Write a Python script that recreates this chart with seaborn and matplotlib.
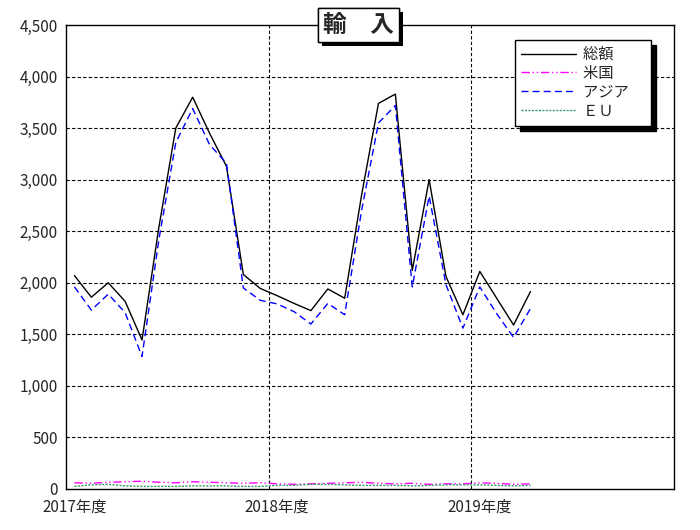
import numpy as np
import pandas as pd
import matplotlib
matplotlib.use("Agg")
import matplotlib.pyplot as plt
import matplotlib.patheffects as pe
import seaborn as sns

# monthly values, April 2017 onwards (28 months), axis holds 36 slots
total = [2070, 1860, 2000, 1820, 1445, 2540, 3500, 3800, 3450, 3130, 2080, 1945,
         1875, 1800, 1730, 1940, 1850, 2850, 3740, 3830, 2120, 3000, 2060, 1690,
         2110, 1850, 1590, 1915]
asia = [1960, 1735, 1890, 1710, 1285, 2420, 3360, 3690, 3340, 3160, 1950, 1830,
        1795, 1720, 1600, 1800, 1690, 2700, 3550, 3720, 1960, 2840, 1980, 1560,
        1960, 1700, 1470, 1750]
usa = [60, 55, 65, 70, 75, 65, 60, 70, 65, 60, 55, 60,
       50, 45, 50, 55, 60, 65, 55, 50, 55, 45, 50, 50,
       60, 55, 45, 50]
eu = [25, 40, 45, 30, 25, 25, 25, 30, 30, 30, 25, 25,
      35, 35, 45, 45, 40, 35, 35, 35, 30, 35, 40, 40,
      40, 35, 30, 35]
year_labels = ["2017年度", "2018年度", "2019年度"]
n_slots = 36

df = pd.DataFrame({
    "month": np.arange(len(total)),
    "総額": total,
    "米国": usa,
    "アジア": asia,
    "ＥＵ": eu,
})

sns.set_style("white")
plt.rcParams['font.family'] = ['Noto Sans CJK JP', 'DejaVu Sans']

fig = plt.figure(figsize=(7, 5.3), dpi=100)
ax = fig.add_axes([0.0943, 0.0774, 0.8686, 0.8754])

sns.lineplot(data=df, x="month", y="総額", ax=ax, color="black", lw=1.0, label="総額")
sns.lineplot(data=df, x="month", y="米国", ax=ax, color="#ff00ff", lw=1.0, label="米国")
sns.lineplot(data=df, x="month", y="アジア", ax=ax, color="#0000ff", lw=1.0, label="アジア")
sns.lineplot(data=df, x="month", y="ＥＵ", ax=ax, color="#339966", lw=1.0, label="ＥＵ")
lines = ax.get_lines()
lines[1].set_linestyle((0, (6, 2, 1, 2, 1, 2)))
lines[2].set_linestyle((0, (5, 3)))
lines[3].set_linestyle((0, (1.5, 1)))

ax.set_xlim(-0.5, n_slots - 0.5)
ax.set_ylim(0, 4500)
ax.set_yticks(np.arange(0, 4501, 500))
ax.set_yticklabels([f"{v:,}" for v in range(0, 4501, 500)], fontsize=11)
ax.set_xticks([0, 12, 24])
ax.set_xticklabels(year_labels, fontsize=11)
ax.tick_params(axis="x", length=0, pad=7)
ax.tick_params(axis="y", length=0, pad=6)
ax.set_xlabel("")
ax.set_ylabel("")

for v in range(500, 4500, 500):
    ax.axhline(v, color="black", lw=0.8, ls=(0, (3, 2)), zorder=0)
for v in [11.5, 23.5]:
    ax.axvline(v, color="black", lw=0.8, ls=(0, (3, 2)), zorder=0)

for s in ax.spines.values():
    s.set_color("black")
    s.set_linewidth(1.0)

leg = ax.legend(loc="upper left", bbox_to_anchor=(0.738, 0.968), frameon=True,
                fancybox=False, edgecolor="black", framealpha=1, fontsize=11,
                handlelength=3.6, handletextpad=0.5, labelspacing=0.12,
                borderpad=0.4, borderaxespad=0,
                shadow={"ox": 4, "oy": -4, "color": "black", "alpha": 1})
leg.get_frame().set_linewidth(1.0)
for t in leg.get_texts():
    t.set_text(t.get_text() + "　")

title = fig.text(0.512, 0.953, "輸　入", ha="center", va="center", fontsize=17,
                 fontweight="bold",
                 bbox=dict(boxstyle="square,pad=0.22", fc="white", ec="black", lw=1.0))
title.get_bbox_patch().set_path_effects([
    pe.withSimplePatchShadow(offset=(3, -3), shadow_rgbFace="black", alpha=1),
    pe.Normal()])

fig.savefig("out.png", dpi=100)
